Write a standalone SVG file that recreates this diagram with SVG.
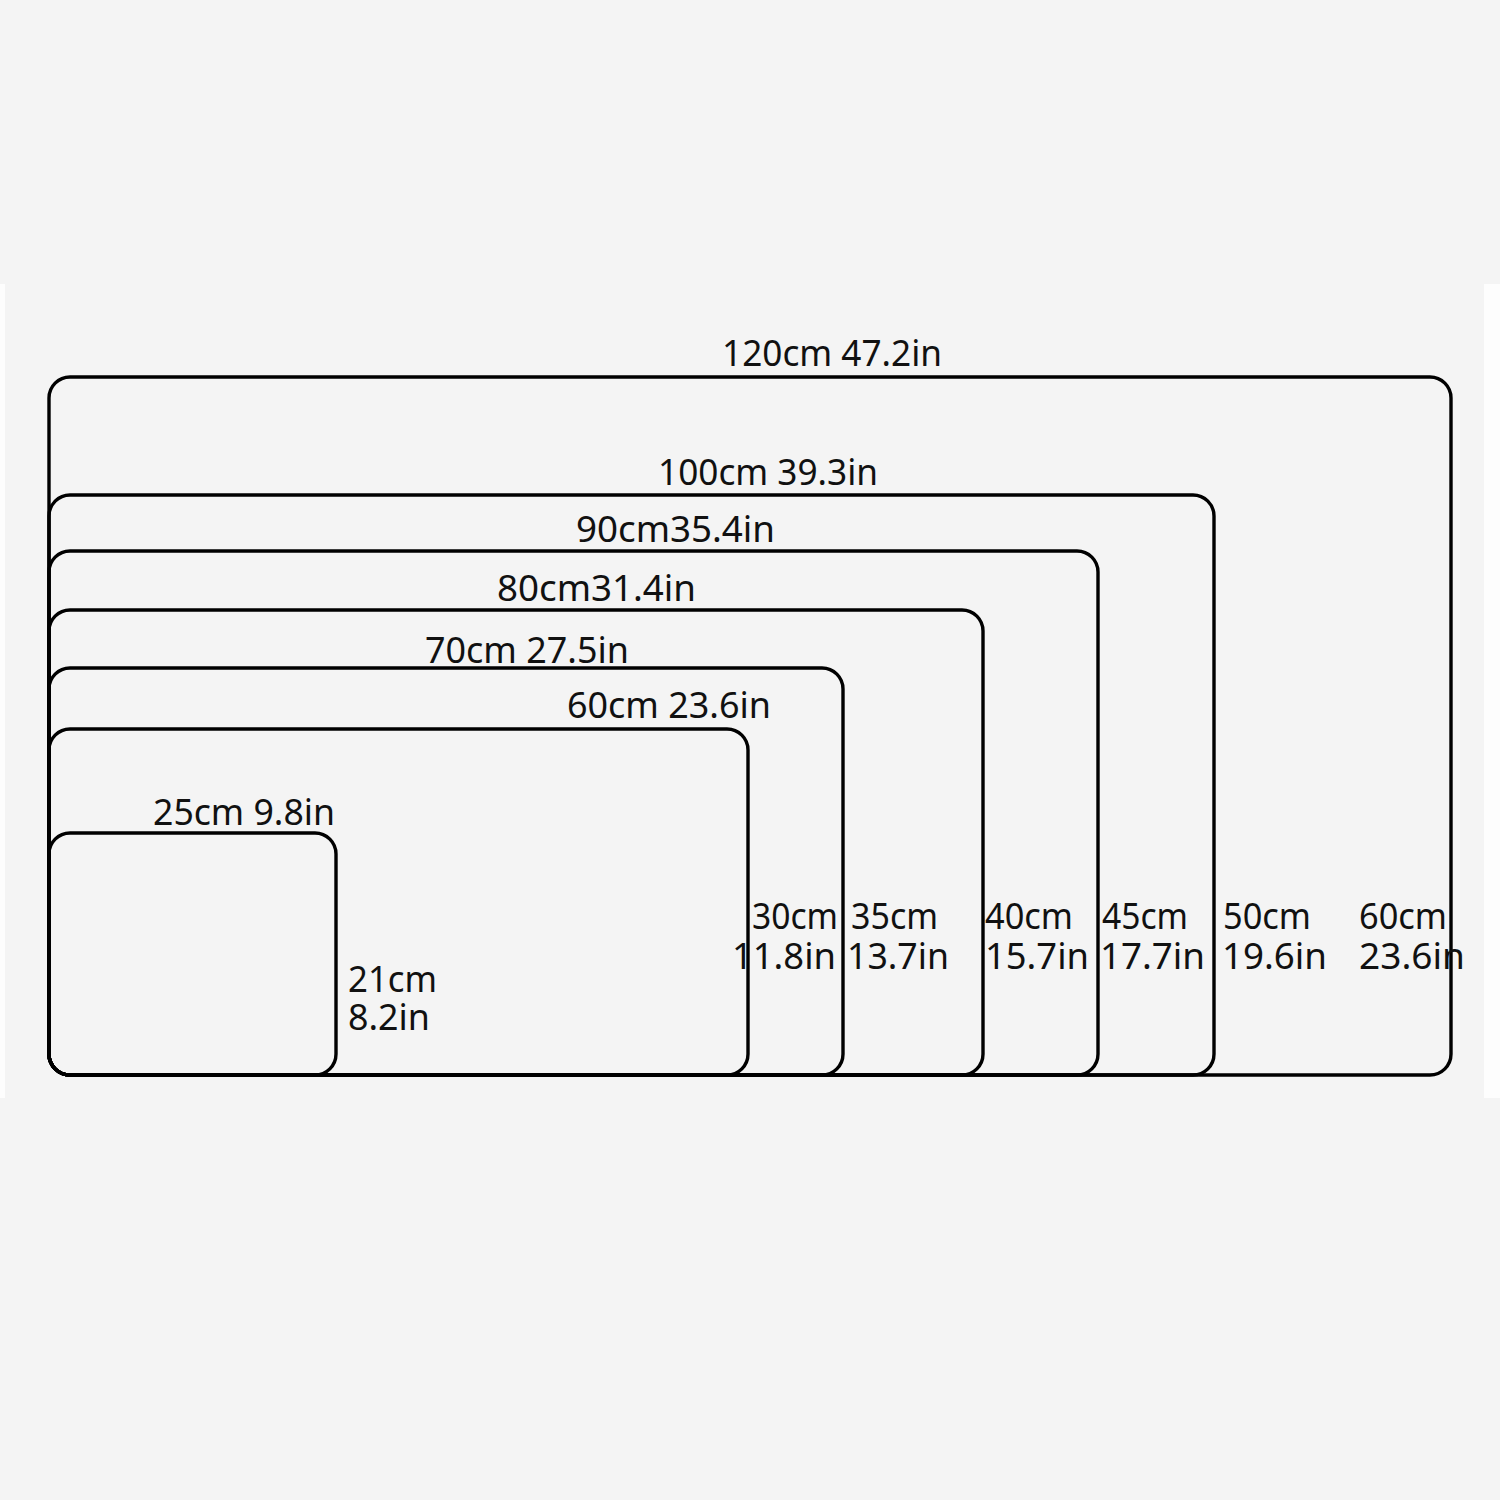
<svg xmlns="http://www.w3.org/2000/svg" width="1500" height="1500" viewBox="0 0 1500 1500">
<style>
.mat{fill:none;stroke:#000;stroke-width:3.4}
.lbl{font-family:"Noto Sans","Open Sans","DejaVu Sans",sans-serif;font-size:36px;fill:#111}
</style>
<rect x="0" y="0" width="1500" height="1500" fill="#f4f4f4"/>
<rect x="0" y="284" width="5" height="814" fill="#fdfdfd"/>
<rect x="1484" y="284" width="16" height="814" fill="#fdfdfd"/>
<g id="mat-120x60">
<rect class="mat" x="49" y="377" width="1402" height="698" rx="21"/>
<text class="lbl" x="722" y="366" textLength="220" lengthAdjust="spacingAndGlyphs">120cm 47.2in</text>
<text class="lbl"><tspan x="1359" y="929" textLength="88" lengthAdjust="spacingAndGlyphs">60cm</tspan><tspan x="1359" y="969" textLength="106" lengthAdjust="spacingAndGlyphs">23.6in</tspan></text>
</g>
<g id="mat-100x50">
<rect class="mat" x="49" y="495" width="1165" height="580" rx="21"/>
<text class="lbl" x="658" y="485" textLength="220" lengthAdjust="spacingAndGlyphs">100cm 39.3in</text>
<text class="lbl"><tspan x="1223" y="929" textLength="88" lengthAdjust="spacingAndGlyphs">50cm</tspan><tspan x="1222" y="969" textLength="105" lengthAdjust="spacingAndGlyphs">19.6in</tspan></text>
</g>
<g id="mat-90x45">
<rect class="mat" x="49" y="551" width="1049" height="524" rx="21"/>
<text class="lbl" x="576" y="542" textLength="199" lengthAdjust="spacingAndGlyphs">90cm35.4in</text>
<text class="lbl"><tspan x="1102" y="929" textLength="86" lengthAdjust="spacingAndGlyphs">45cm</tspan><tspan x="1100" y="969" textLength="105" lengthAdjust="spacingAndGlyphs">17.7in</tspan></text>
</g>
<g id="mat-80x40">
<rect class="mat" x="49" y="610" width="934" height="465" rx="21"/>
<text class="lbl" x="497" y="601" textLength="199" lengthAdjust="spacingAndGlyphs">80cm31.4in</text>
<text class="lbl"><tspan x="985" y="929" textLength="88" lengthAdjust="spacingAndGlyphs">40cm</tspan><tspan x="985" y="969" textLength="104" lengthAdjust="spacingAndGlyphs">15.7in</tspan></text>
</g>
<g id="mat-70x35">
<rect class="mat" x="49" y="668" width="794" height="407" rx="21"/>
<text class="lbl" x="425" y="663" textLength="204" lengthAdjust="spacingAndGlyphs">70cm 27.5in</text>
<text class="lbl"><tspan x="851" y="929" textLength="87" lengthAdjust="spacingAndGlyphs">35cm</tspan><tspan x="847" y="969" textLength="102" lengthAdjust="spacingAndGlyphs">13.7in</tspan></text>
</g>
<g id="mat-60x30">
<rect class="mat" x="49" y="729" width="699" height="346" rx="21"/>
<text class="lbl" x="567" y="718" textLength="204" lengthAdjust="spacingAndGlyphs">60cm 23.6in</text>
<text class="lbl"><tspan x="752" y="929" textLength="86" lengthAdjust="spacingAndGlyphs">30cm</tspan><tspan x="732" y="969" textLength="104" lengthAdjust="spacingAndGlyphs">11.8in</tspan></text>
</g>
<g id="mat-25x21">
<rect class="mat" x="49" y="833" width="287" height="242" rx="21"/>
<text class="lbl" x="153" y="825" textLength="182" lengthAdjust="spacingAndGlyphs">25cm 9.8in</text>
<text class="lbl"><tspan x="348" y="992" textLength="89" lengthAdjust="spacingAndGlyphs">21cm</tspan><tspan x="348" y="1030" textLength="82" lengthAdjust="spacingAndGlyphs">8.2in</tspan></text>
</g>
<g id="connectors"/>
</svg>
